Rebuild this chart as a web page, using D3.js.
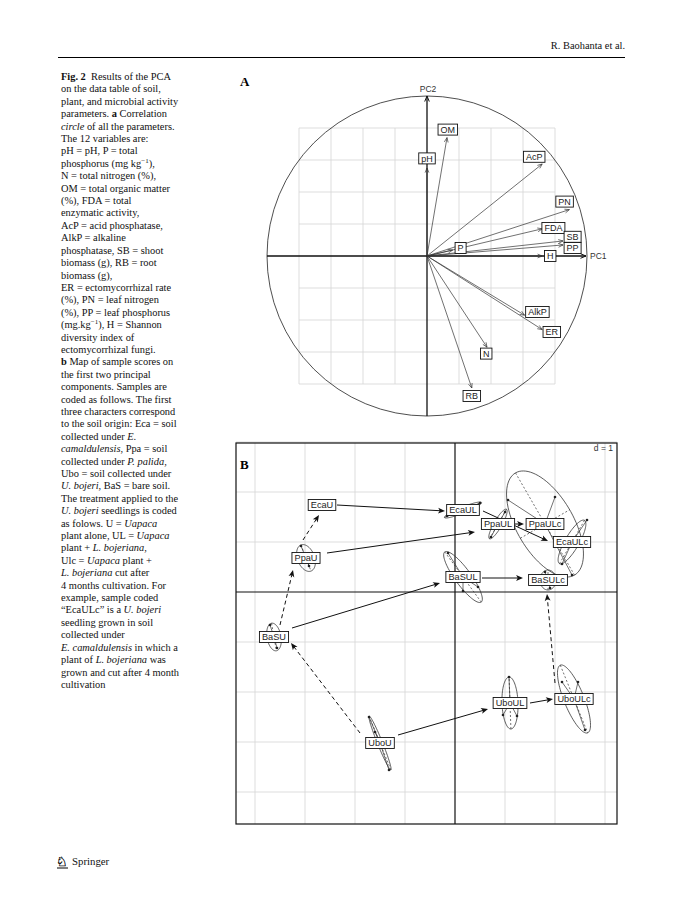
<!DOCTYPE html>
<html><head><meta charset="utf-8">
<script src="https://cdn.jsdelivr.net/npm/d3@7"></script>
<style>
body{margin:0;background:#fff;}
#cap{position:absolute;left:61px;top:71px;font-family:"Liberation Serif","Times New Roman",serif;font-size:10.4px;line-height:12.4px;color:#111;white-space:nowrap;}
#cap sup{font-size:7px;line-height:0;vertical-align:4px;}
</style></head><body>
<div id="cap"></div>
<svg id="fig" width="684" height="922" style="position:absolute;left:0;top:0"></svg>
<script>
// ---------- Caption ----------
const captionLines = [
 "<b>Fig. 2</b>&nbsp; Results of the PCA","on the data table of soil,","plant, and microbial activity",
 "parameters. <b>a</b> Correlation","<i>circle</i> of all the parameters.","The 12 variables are:",
 "pH = pH, P = total","phosphorus (mg kg<sup>−1</sup>),","N = total nitrogen (%),",
 "OM = total organic matter","(%), FDA = total","enzymatic activity,",
 "AcP = acid phosphatase,","AlkP = alkaline","phosphatase, SB = shoot",
 "biomass (g), RB = root","biomass (g),","ER = ectomycorrhizal rate",
 "(%), PN = leaf nitrogen","(%), PP = leaf phosphorus","(mg.kg<sup>−1</sup>), H = Shannon",
 "diversity index of","ectomycorrhizal fungi.","<b>b</b> Map of sample scores on",
 "the first two principal","components. Samples are","coded as follows. The first",
 "three characters correspond","to the soil origin: Eca = soil","collected under <i>E.</i>",
 "<i>camaldulensis</i>, Ppa = soil","collected under <i>P. palida</i>,","Ubo = soil collected under",
 "<i>U. bojeri</i>, BaS = bare soil.","The treatment applied to the","<i>U. bojeri</i> seedlings is coded",
 "as folows. U = <i>Uapaca</i>","plant alone, UL = <i>Uapaca</i>","plant + <i>L. bojeriana</i>,",
 "Ulc = <i>Uapaca</i> plant +","<i>L. bojeriana</i> cut after","4 months cultivation. For",
 "example, sample coded","“EcaULc” is a <i>U. bojeri</i>","seedling grown in soil",
 "collected under","<i>E. camaldulensis</i> in which a","plant of <i>L. bojeriana</i> was",
 "grown and cut after 4 month","cultivation"
];
d3.select("#cap").selectAll("div").data(captionLines).enter().append("div").html(d=>d);

// ---------- Panel A data (correlation circle) ----------
const varNames  = ["pH","OM","AcP","PN","FDA","SB","PP","H","P","AlkP","ER","N","RB"];
const varPC1    = [0.00,0.125,0.72,0.89,0.72,0.85,0.85,0.72,0.16,0.61,0.72,0.375,0.28];
const varPC2    = [0.55,0.74,0.575,0.29,0.17,0.094,0.069,0.0,0.037,-0.37,-0.46,-0.57,-0.825];
const varLabPC1 = [0.0,0.13,0.67,0.86,0.79,0.91,0.91,0.77,0.21,0.69,0.78,0.37,0.28];
const varLabPC2 = [0.61,0.79,0.62,0.34,0.175,0.12,0.05,0.0,0.05,-0.35,-0.475,-0.61,-0.875];
const gridA = [-0.8,-0.6,-0.4,-0.2,0.2,0.4,0.6,0.8];

// ---------- Panel B data (sample scores) ----------
const groups   = ["EcaU","PpaU","BaSU","UboU","EcaUL","PpaUL","PpaULc","EcaULc","BaSUL","BaSULc","UboUL","UboULc"];
const grpX     = [-2.66,-2.98,-3.62,-1.50,0.16,0.86,1.80,2.34,0.16,1.86,1.10,2.38];
const grpY     = [1.74,0.68,-0.90,-3.02,1.64,1.36,1.36,1.00,0.30,0.24,-2.22,-2.14];
const ellA     = [0.12,0.28,0.28,0.58,0.40,0.34,1.18,0.50,0.62,0.20,0.52,0.73];
const ellB     = [0.05,0.17,0.14,0.05,0.06,0.08,0.57,0.14,0.16,0.16,0.16,0.20];
const ellAngle = [0,-69,-80,-68,22,60,-60,60,-54,90,92,-68];
const ptsX = [[-2.74,-2.58,-2.66],[-3.08,-2.92,-2.94],[-3.70,-3.56,-3.60],[-1.72,-1.60,-1.32],
              [-0.16,0.50,0.14],[0.72,1.00,0.86],[1.06,2.00,2.34],[2.64,2.14,2.24],
              [-0.14,0.16,0.46],[1.80,1.90,1.88],[1.08,0.96,1.24],[2.14,2.46,2.60]];
const ptsY = [[1.76,1.72,1.74],[0.92,0.52,0.60],[-0.66,-1.12,-0.92],[-2.50,-2.80,-3.56],
              [1.52,1.78,1.62],[1.10,1.60,1.38],[1.84,1.90,0.34],[1.44,0.56,1.00],
              [0.78,0.02,0.10],[0.40,0.08,0.24],[-1.70,-2.46,-2.48],[-1.80,-1.80,-2.76]];
const arrowX1 = [-2.36,-2.56,-3.26,-1.14,0.56,1.20,0.54,1.50,-3.50,-3.04,-1.90,2.00];
const arrowY1 = [1.74,0.78,-0.72,-2.86,1.62,1.36,0.28,-2.22,-0.66,1.04,-2.82,-1.82];
const arrowX2 = [-0.20,0.40,-0.30,0.66,1.86,1.38,1.36,1.96,-3.24,-2.72,-3.28,1.84];
const arrowY2 = [1.62,1.20,0.18,-2.34,1.02,1.36,0.28,-2.14,0.44,1.54,-1.02,-0.04];
const arrowDashed = [false,false,false,false,false,false,false,false,true,true,true,true];
const gridB = [-4,-3,-2,-1,1,2,3];

const svg = d3.select("#fig");
const SANS = "'Liberation Sans', Arial, Helvetica, sans-serif";
const SERIF = "'Liberation Serif', 'Times New Roman', serif";

// header
svg.append("text").attr("x",625).attr("y",49).attr("text-anchor","end")
  .attr("font-family",SERIF).attr("font-size",10.4).attr("fill","#111").text("R. Baohanta et al.");
svg.append("line").attr("x1",58).attr("x2",625).attr("y1",57.5).attr("y2",57.5).attr("stroke","#000").attr("stroke-width",1);

// footer
svg.append("text").attr("x",56).attr("y",866).attr("font-family","'DejaVu Sans'").attr("font-size",13).attr("fill","#000")
  .attr("stroke","#000").attr("stroke-width",0.3).text("\u2658");
svg.append("line").attr("x1",57).attr("x2",68).attr("y1",868).attr("y2",868).attr("stroke","#000").attr("stroke-width",1);
svg.append("text").attr("x",72).attr("y",865).attr("font-family",SERIF).attr("font-size",10.8).attr("fill","#111").text("Springer");

// ---------- Panel A ----------
const xA = d3.scaleLinear().domain([-1,1]).range([267,587]);
const yA = d3.scaleLinear().domain([-1,1]).range([416,96]);
const gA = svg.append("g");
gA.append("text").attr("x",240).attr("y",86).attr("font-family",SERIF).attr("font-weight","bold").attr("font-size",13).text("A");
gridA.forEach(v=>{
  gA.append("line").attr("x1",xA(v)).attr("x2",xA(v)).attr("y1",yA(-0.8)).attr("y2",yA(0.8)).attr("stroke","#d4d4d4").attr("stroke-width",0.8);
  gA.append("line").attr("y1",yA(v)).attr("y2",yA(v)).attr("x1",xA(-0.8)).attr("x2",xA(0.8)).attr("stroke","#d4d4d4").attr("stroke-width",0.8);
});
gA.append("circle").attr("cx",xA(0)).attr("cy",yA(0)).attr("r",xA(1)-xA(0)).attr("fill","none").attr("stroke","#222").attr("stroke-width",0.8);

function vHead(g,x1,y1,x2,y2,len,col,w){
  const a=Math.atan2(y2-y1,x2-x1), s=Math.PI/8;
  g.append("path").attr("d",`M${x2-len*Math.cos(a-s)},${y2-len*Math.sin(a-s)}L${x2},${y2}L${x2-len*Math.cos(a+s)},${y2-len*Math.sin(a+s)}`)
   .attr("fill","none").attr("stroke",col).attr("stroke-width",w);
}
// axes PC1 / PC2
gA.append("line").attr("x1",xA(-1)).attr("x2",xA(1)-1).attr("y1",yA(0)).attr("y2",yA(0)).attr("stroke","#111").attr("stroke-width",1.3);
vHead(gA,xA(-1),yA(0),xA(1)-1,yA(0),6,"#111",1);
gA.append("line").attr("x1",xA(0)).attr("x2",xA(0)).attr("y1",yA(-1)).attr("y2",yA(1)).attr("stroke","#111").attr("stroke-width",1.3);
vHead(gA,xA(0),yA(-1),xA(0),yA(1),6,"#111",1);
gA.append("text").attr("x",xA(0)+1).attr("y",yA(1)-4).attr("text-anchor","middle").attr("font-family",SANS).attr("font-size",8.5).attr("fill","#333").text("PC2");
gA.append("text").attr("x",xA(1)+3).attr("y",yA(0)+3).attr("font-family",SANS).attr("font-size",8.5).attr("fill","#333").text("PC1");

varNames.forEach((n,i)=>{
  const x2=xA(varPC1[i]), y2=yA(varPC2[i]);
  gA.append("line").attr("x1",xA(0)).attr("y1",yA(0)).attr("x2",x2).attr("y2",y2).attr("stroke","#333").attr("stroke-width",0.7);
  vHead(gA,xA(0),yA(0),x2,y2,5,"#333",0.7);
});
function labelBox(g,cx,cy,txt,fs,h){
  const t=g.append("text").attr("x",cx).attr("y",cy+fs*0.36).attr("text-anchor","middle")
    .attr("font-family",SANS).attr("font-size",fs).attr("fill","#222").text(txt);
  const w=t.node().getComputedTextLength()+fs*0.556;
  g.insert("rect",()=>t.node()).attr("x",cx-w/2).attr("y",cy-h/2).attr("width",w).attr("height",h)
    .attr("fill","#fff").attr("stroke","#111").attr("stroke-width",0.9);
}
varNames.forEach((n,i)=>labelBox(gA,xA(varLabPC1[i]),yA(varLabPC2[i]),n,9,11));

// ---------- Panel B ----------
const xB = d3.scaleLinear().domain([-4.38,3.24]).range([236,617]);
const yB = d3.scaleLinear().domain([-4.64,2.98]).range([824,443]);
const gB = svg.append("g");
gridB.forEach(v=>{
  gB.append("line").attr("x1",xB(v)).attr("x2",xB(v)).attr("y1",yB(2.98)).attr("y2",yB(-4.64)).attr("stroke","#d4d4d4").attr("stroke-width",0.8);
  gB.append("line").attr("y1",yB(v)).attr("y2",yB(v)).attr("x1",xB(-4.38)).attr("x2",xB(3.24)).attr("stroke","#d4d4d4").attr("stroke-width",0.8);
});
gB.append("line").attr("x1",xB(0)).attr("x2",xB(0)).attr("y1",yB(2.98)).attr("y2",yB(-4.64)).attr("stroke","#111").attr("stroke-width",1.2);
gB.append("line").attr("y1",yB(0)).attr("y2",yB(0)).attr("x1",xB(-4.38)).attr("x2",xB(3.24)).attr("stroke","#111").attr("stroke-width",1.2);
gB.append("rect").attr("x",xB(-4.38)).attr("y",yB(2.98)).attr("width",xB(3.24)-xB(-4.38)).attr("height",yB(-4.64)-yB(2.98))
  .attr("fill","none").attr("stroke","#111").attr("stroke-width",1.2);
gB.append("text").attr("x",240).attr("y",469).attr("font-family",SERIF).attr("font-weight","bold").attr("font-size",13).text("B");
gB.append("text").attr("x",613).attr("y",451).attr("text-anchor","end").attr("font-family",SANS).attr("font-size",8.5).attr("fill","#333").text("d = 1");

const line = d3.line().x(d=>xB(d[0])).y(d=>yB(d[1]));
groups.forEach((g,i)=>{
  const cx=grpX[i], cy=grpY[i], a=ellA[i], b=ellB[i], t=ellAngle[i]*Math.PI/180;
  const pts=d3.range(0,361,4).map(k=>{const u=k*Math.PI/180;
    return [cx+a*Math.cos(u)*Math.cos(t)-b*Math.sin(u)*Math.sin(t), cy+a*Math.cos(u)*Math.sin(t)+b*Math.sin(u)*Math.cos(t)];});
  gB.append("path").attr("d",line(pts)).attr("fill","none").attr("stroke","#333").attr("stroke-width",0.8);
  // ellipse axes (dashed)
  gB.append("path").attr("d",line([[cx-a*Math.cos(t),cy-a*Math.sin(t)],[cx+a*Math.cos(t),cy+a*Math.sin(t)]]))
    .attr("stroke","#333").attr("stroke-width",0.7).attr("stroke-dasharray","2,2");
  gB.append("path").attr("d",line([[cx+b*Math.sin(t),cy-b*Math.cos(t)],[cx-b*Math.sin(t),cy+b*Math.cos(t)]]))
    .attr("stroke","#333").attr("stroke-width",0.7).attr("stroke-dasharray","2,2");
  ptsX[i].forEach((px,k)=>{
    gB.append("path").attr("d",line([[px,ptsY[i][k]],[cx,cy]])).attr("stroke","#333").attr("stroke-width",0.7);
    gB.append("circle").attr("cx",xB(px)).attr("cy",yB(ptsY[i][k])).attr("r",1.3).attr("fill","#222");
  });
});
arrowX1.forEach((x1,i)=>{
  const X1=xB(x1),Y1=yB(arrowY1[i]),X2=xB(arrowX2[i]),Y2=yB(arrowY2[i]);
  const a=Math.atan2(Y2-Y1,X2-X1), L=7.5, W=0.4;
  gB.append("line").attr("x1",X1).attr("y1",Y1).attr("x2",X2-3*Math.cos(a)).attr("y2",Y2-3*Math.sin(a))
    .attr("stroke","#111").attr("stroke-width",1).attr("stroke-dasharray",arrowDashed[i]?"4,3":null);
  gB.append("path").attr("d",`M${X2},${Y2}L${X2-L*Math.cos(a-W)},${Y2-L*Math.sin(a-W)}L${X2-L*0.7*Math.cos(a)},${Y2-L*0.7*Math.sin(a)}L${X2-L*Math.cos(a+W)},${Y2-L*Math.sin(a+W)}Z`)
    .attr("fill","#111");
});
groups.forEach((g,i)=>labelBox(gB,xB(grpX[i]),yB(grpY[i]),g,9.2,11));
</script>
</body></html>
